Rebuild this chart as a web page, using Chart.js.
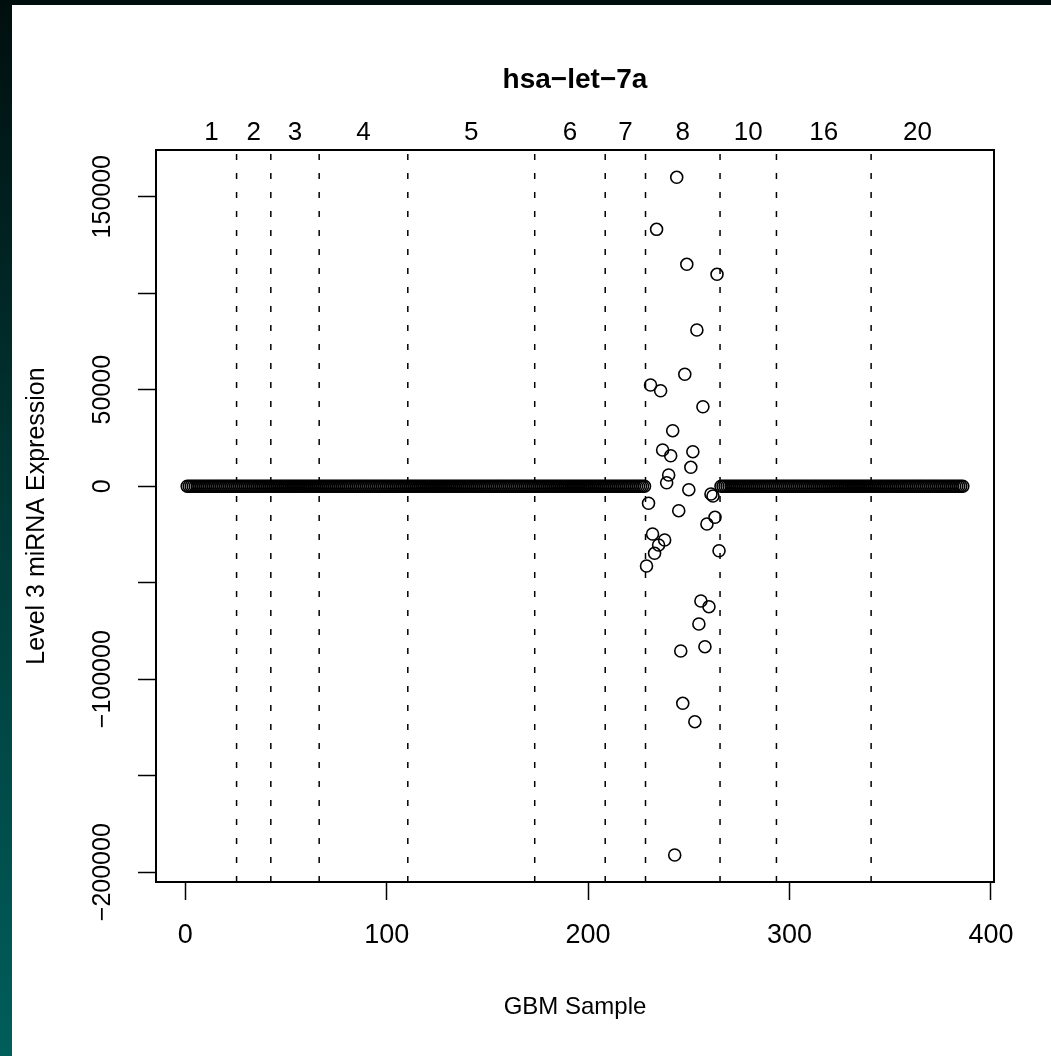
<!DOCTYPE html>
<html>
<head>
<meta charset="utf-8">
<script src="https://cdn.jsdelivr.net/npm/chart.js@4.4.0/dist/chart.umd.min.js"></script>
<style>
  html, body { margin: 0; padding: 0; }
  body { width: 1051px; height: 1056px; overflow: hidden;
         background: linear-gradient(to bottom, #000f0e 0%, #003a38 50%, #005e5b 100%); position: relative; }
  #c { position: absolute; left: 12px; top: 5px; background: #ffffff; }
</style>
</head>
<body>
<canvas id="c" width="1039" height="1051"></canvas>
<script>
// ---------------- data ----------------
const chartTitle = 'hsa\u2212let\u22127a';
const xTitle = 'GBM Sample';
const yTitle = 'Level 3 miRNA Expression';

// batch labels shown along the top, and the boundaries (dashed lines) between batches
const batchLabels = ['1', '2', '3', '4', '5', '6', '7', '8', '10', '16', '20'];
const batchBoundaries = [25.5, 42.5, 66.5, 110.5, 173.5, 208.5, 228.5, 265.5, 293.5, 340.5];

// x tick labels / y tick values
const xTicks = [0, 100, 200, 300, 400];
const yTicks = [-200000, -150000, -100000, -50000, 0, 50000, 100000, 150000];
const yTicksLabelled = [-200000, -100000, 0, 50000, 150000];

// expression values, sample 1..228 (all at ~0)
const exprSamples1to228 = [
  0,0,0,0,0,0,0,0,0,0,0,0,0,0,0,0,0,0,0,0,0,0,0,0,0,0,0,0,0,0,
  0,0,0,0,0,0,0,0,0,0,0,0,0,0,0,0,0,0,0,0,0,0,0,0,0,0,0,0,0,0,
  0,0,0,0,0,0,0,0,0,0,0,0,0,0,0,0,0,0,0,0,0,0,0,0,0,0,0,0,0,0,
  0,0,0,0,0,0,0,0,0,0,0,0,0,0,0,0,0,0,0,0,0,0,0,0,0,0,0,0,0,0,
  0,0,0,0,0,0,0,0,0,0,0,0,0,0,0,0,0,0,0,0,0,0,0,0,0,0,0,0,0,0,
  0,0,0,0,0,0,0,0,0,0,0,0,0,0,0,0,0,0,0,0,0,0,0,0,0,0,0,0,0,0,
  0,0,0,0,0,0,0,0,0,0,0,0,0,0,0,0,0,0,0,0,0,0,0,0,0,0,0,0,0,0,
  0,0,0,0,0,0,0,0,0,0,0,0,0,0,0,0,0,0
];
// expression values, batch 8: samples 229..265
const exprSamples229to265 = [
  -41350, -8860, 52440, -24770, -34770, 133100, -30470, 49480, 18760, -27880,
  1810, 5800, 15800, 28760, -191090, 160050, -12690, -85390, -112490, 57980,
  114970, -1810, 9790, 17880, -122020, 80930, -71400, -59480, 41190, -83160,
  -19590, -62430, -4040, -5080, -16120, 109790, -33420
];
// expression values, samples 266..386 (all at ~0)
const exprSamples266to386 = [
  0,0,0,0,0,0,0,0,0,0,0,0,0,0,0,0,0,0,0,0,0,0,0,0,0,0,0,0,0,0,
  0,0,0,0,0,0,0,0,0,0,0,0,0,0,0,0,0,0,0,0,0,0,0,0,0,0,0,0,0,0,
  0,0,0,0,0,0,0,0,0,0,0,0,0,0,0,0,0,0,0,0,0,0,0,0,0,0,0,0,0,0,
  0,0,0,0,0,0,0,0,0,0,0,0,0,0,0,0,0,0,0,0,0,0,0,0,0,0,0,0,0,0,
  0
];

// ---------------- build ----------------
const allExpr = exprSamples1to228.concat(exprSamples229to265, exprSamples266to386);
const points = allExpr.map((v, i) => ({ x: i + 1, y: v }));
const nSamples = allExpr.length;

const X_MIN = -14.5, X_MAX = 401.5;
const Y_MIN = -205080, Y_MAX = 174200;

const edges = [0.5].concat(batchBoundaries, [nSamples + 0.5]);
const batchCenters = batchLabels.map((_, i) => (edges[i] + edges[i + 1]) / 2);

const FONT = "'Liberation Sans', Arial, Helvetica, sans-serif";
const fmt = v => (v < 0 ? '\u2212' + Math.abs(v) : String(v));

const lineSets = batchBoundaries.map(b => ({
  type: 'line',
  data: [{ x: b, y: Y_MIN }, { x: b, y: Y_MAX }],
  borderColor: '#000',
  borderWidth: 1.5,
  borderDash: [6, 13],
  pointRadius: 0,
  showLine: true,
  fill: false,
  order: 1
}));

new Chart(document.getElementById('c'), {
  type: 'scatter',
  data: {
    datasets: [{
      data: points,
      pointStyle: 'circle',
      pointRadius: 6,
      pointBorderWidth: 1.6,
      borderColor: '#000',
      pointBorderColor: '#000',
      backgroundColor: 'rgba(0,0,0,0)',
      pointBackgroundColor: 'rgba(0,0,0,0)',
      order: 0
    }].concat(lineSets)
  },
  options: {
    responsive: false,
    animation: false,
    devicePixelRatio: 1,
    layout: { padding: 0 },
    plugins: { legend: { display: false }, tooltip: { enabled: false }, title: { display: false } },
    scales: {
      x: {
        type: 'linear', position: 'bottom', min: X_MIN, max: X_MAX,
        afterBuildTicks: s => { s.ticks = xTicks.map(v => ({ value: v })); },
        afterFit: s => { s.height = 174; },
        ticks: { color: '#000', font: { family: FONT, size: 27 }, padding: 19, maxRotation: 0, autoSkip: false },
        grid: { display: true, drawOnChartArea: false, drawTicks: true, tickLength: 18, tickWidth: 1.5, tickColor: '#000' },
        border: { display: true, color: '#000', width: 2 },
        title: { display: true, text: xTitle, color: '#000', font: { family: FONT, size: 24 }, padding: { top: 0, bottom: 34 } }
      },
      x2: {
        type: 'linear', position: 'top', min: X_MIN, max: X_MAX,
        afterBuildTicks: s => { s.ticks = batchCenters.map(v => ({ value: v })); },
        afterFit: s => { s.height = 145; },
        ticks: { color: '#000', font: { family: FONT, size: 26 }, padding: 2, maxRotation: 0, autoSkip: false,
                 callback: (v, i) => batchLabels[i] },
        grid: { display: true, drawOnChartArea: false, drawTicks: false },
        border: { display: true, color: '#000', width: 2 },
        title: { display: true, text: chartTitle, color: '#000', font: { family: FONT, size: 28, weight: 'bold' }, padding: { top: 58, bottom: 0 } }
      },
      y: {
        type: 'linear', position: 'left', min: Y_MIN, max: Y_MAX,
        afterBuildTicks: s => { s.ticks = yTicks.map(v => ({ value: v })); },
        afterFit: s => { s.width = 144; },
        ticks: { color: '#000', font: { family: FONT, size: 25 }, padding: -14, minRotation: 90, maxRotation: 90,
                 crossAlign: 'center', autoSkip: false,
                 callback: v => (yTicksLabelled.includes(v) ? fmt(v) : '') },
        grid: { display: true, drawOnChartArea: false, drawTicks: true, tickLength: 18, tickWidth: 1.5, tickColor: '#000' },
        border: { display: true, color: '#000', width: 2 },
        title: { display: true, text: yTitle, color: '#000', font: { family: FONT, size: 25 }, padding: { top: 10, bottom: 0 } }
      },
      y2: {
        type: 'linear', position: 'right', min: Y_MIN, max: Y_MAX,
        afterFit: s => { s.width = 57; },
        ticks: { display: false },
        grid: { display: true, drawOnChartArea: false, drawTicks: false },
        border: { display: true, color: '#000', width: 2 }
      }
    }
  }
});
</script>
</body>
</html>
